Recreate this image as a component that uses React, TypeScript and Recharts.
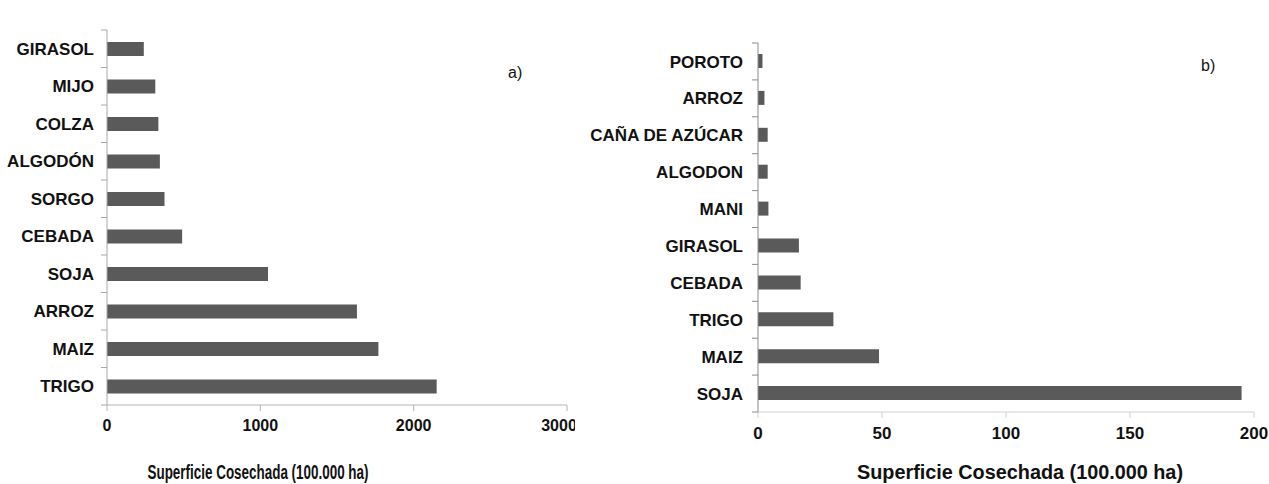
import { Bar, BarChart, Label, XAxis, YAxis } from "recharts";

const FONT = '"Liberation Sans", Arial, Helvetica, sans-serif';
const BAR = "#5a5a5a";
const INK = "#111111";

// panel a) - world harvested area
const cropsA = ["GIRASOL", "MIJO", "COLZA", "ALGODÓN", "SORGO", "CEBADA", "SOJA", "ARROZ", "MAIZ", "TRIGO"];
const areaA = [240, 315, 335, 345, 375, 490, 1050, 1630, 1770, 2150];
const ticksA = [0, 1000, 2000, 3000];

// panel b) - Argentina harvested area
const cropsB = ["POROTO", "ARROZ", "CAÑA DE AZÚCAR", "ALGODON", "MANI", "GIRASOL", "CEBADA", "TRIGO", "MAIZ", "SOJA"];
const areaB = [1.8, 2.6, 3.9, 3.9, 4.2, 16.5, 17.2, 30.4, 48.8, 195];
const ticksB = [0, 50, 100, 150, 200];

const AXIS_TITLE = "Superficie Cosechada (100.000 ha)";

const dataA = cropsA.map((name, i) => ({ name, value: areaA[i] }));
const dataB = cropsB.map((name, i) => ({ name, value: areaB[i] }));

function CategoryTick(props: any) {
  const { x, y, payload, gap, lastName, stroke } = props;
  const half = payload?.offset ?? 0;
  const ax = x + gap;
  return (
    <g>
      <line x1={ax - 6} x2={ax} y1={y - half} y2={y - half} stroke={stroke} />
      {payload.value === lastName && (
        <line x1={ax - 6} x2={ax} y1={y + half} y2={y + half} stroke={stroke} />
      )}
      <text
        x={x}
        y={y}
        dy="0.36em"
        textAnchor="end"
        fontFamily={FONT}
        fontSize={17}
        fontWeight="bold"
        fill={INK}
      >
        {payload.value}
      </text>
    </g>
  );
}

function axisTitle(shift: number, drop: number, size: number, len: number) {
  return (props: any) => {
    const vb = props.viewBox;
    return (
      <text
        x={vb.x + vb.width / 2 + shift}
        y={vb.y + drop}
        textAnchor="middle"
        fontFamily={FONT}
        fontSize={size}
        fontWeight="bold"
        fill={INK}
        textLength={len}
        lengthAdjust="spacingAndGlyphs"
      >
        {AXIS_TITLE}
      </text>
    );
  };
}

const tickFont = { fontFamily: FONT, fontSize: 16, fontWeight: "bold", fill: INK };

export default function App() {
  return (
    <div
      style={{
        position: "absolute",
        left: 0,
        top: 0,
        width: 1269,
        height: 484,
        background: "#fff",
        overflow: "hidden",
      }}
    >
      <div style={{ position: "absolute", left: 0, top: 0 }}>
        <BarChart
          width={575}
          height={484}
          data={dataA}
          layout="vertical"
          margin={{ top: 30, right: 8, bottom: 0, left: 0 }}
        >
          <XAxis
            type="number"
            domain={[0, 3000]}
            ticks={ticksA}
            stroke="#b4b4b4"
            tickSize={6}
            tickMargin={9}
            height={79}
            tick={tickFont}
          >
            <Label content={axisTitle(-79, 74, 20, 221)} />
          </XAxis>
          <YAxis
            type="category"
            dataKey="name"
            width={107}
            stroke="#a8a8a8"
            tickSize={0}
            tickMargin={13}
            interval={0}
            tick={(p: any) => (
              <CategoryTick {...p} gap={13} lastName={cropsA[cropsA.length - 1]} stroke="#a8a8a8" />
            )}
          />
          <Bar dataKey="value" fill={BAR} barSize={14} isAnimationActive={false} />
        </BarChart>
      </div>

      <div style={{ position: "absolute", left: 582, top: 0 }}>
        <BarChart
          width={687}
          height={484}
          data={dataB}
          layout="vertical"
          margin={{ top: 43, right: 15, bottom: 0, left: 0 }}
        >
          <XAxis
            type="number"
            domain={[0, 200]}
            ticks={ticksB}
            stroke="#d2d2d2"
            tickSize={6}
            tickMargin={9}
            height={72}
            tick={{ ...tickFont, fontSize: 17 }}
          >
            <Label content={axisTitle(14, 67, 20, 326)} />
          </XAxis>
          <YAxis
            type="category"
            dataKey="name"
            width={176}
            stroke="#8c8c8c"
            tickSize={0}
            tickMargin={15}
            interval={0}
            tick={(p: any) => (
              <CategoryTick {...p} gap={15} lastName={cropsB[cropsB.length - 1]} stroke="#8c8c8c" />
            )}
          />
          <Bar dataKey="value" fill={BAR} barSize={14} isAnimationActive={false} />
        </BarChart>
      </div>

      <div
        style={{
          position: "absolute",
          left: 508,
          top: 64,
          fontFamily: FONT,
          fontSize: 16,
          color: INK,
        }}
      >
        a)
      </div>
      <div
        style={{
          position: "absolute",
          left: 1201,
          top: 57,
          fontFamily: FONT,
          fontSize: 16,
          color: INK,
        }}
      >
        b)
      </div>
    </div>
  );
}
